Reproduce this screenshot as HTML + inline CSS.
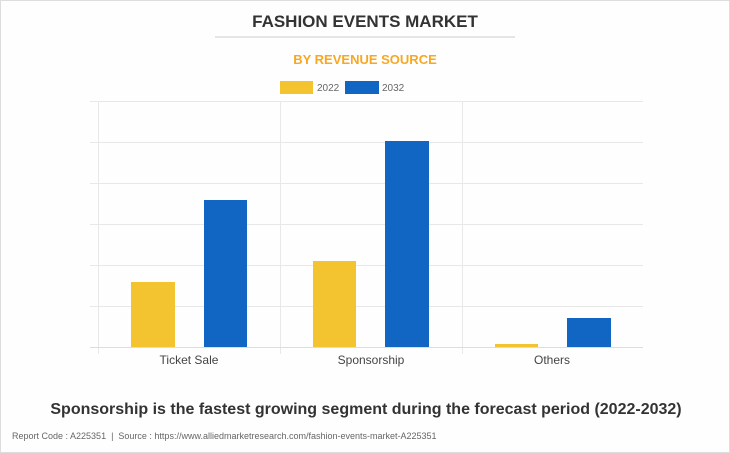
<!DOCTYPE html>
<html><head><style>
body{margin:0;background:#fff;}
.w{position:relative;width:728px;height:451px;border:1px solid #ddd;background:#fefefe;font-family:"Liberation Sans",Arial,sans-serif;overflow:hidden}
</style></head><body><div class="w">
<svg width="730" height="453" style="position:absolute;left:-1px;top:-1px" font-family="Liberation Sans, Arial, sans-serif">
<text x="365" y="27" text-anchor="middle" font-size="17" font-weight="bold" fill="#333">FASHION EVENTS MARKET</text>
<line x1="215" y1="37" x2="515" y2="37" stroke="#ccc" stroke-width="1"/>
<text x="365" y="64" text-anchor="middle" font-size="13" font-weight="bold" fill="#f7a823">BY REVENUE SOURCE</text>
<rect x="280" y="81" width="33" height="13" fill="#f4c430"/>
<text x="317" y="91" font-size="10" fill="#666">2022</text>
<rect x="345" y="81" width="34" height="13" fill="#1166c3"/>
<text x="382" y="91" font-size="10" fill="#666">2032</text>
<g stroke="#e8e8e8" stroke-width="1">
<line x1="90" y1="101.5" x2="643" y2="101.5"/>
<line x1="90" y1="142.5" x2="643" y2="142.5"/>
<line x1="90" y1="183.5" x2="643" y2="183.5"/>
<line x1="90" y1="224.5" x2="643" y2="224.5"/>
<line x1="90" y1="265.5" x2="643" y2="265.5"/>
<line x1="90" y1="306.5" x2="643" y2="306.5"/>
<line x1="98.5" y1="101" x2="98.5" y2="354"/>
<line x1="280.5" y1="101" x2="280.5" y2="354"/>
<line x1="462.5" y1="101" x2="462.5" y2="354"/>
</g>
<rect x="131" y="282" width="44" height="65" fill="#f4c430"/>
<rect x="204" y="200" width="43" height="147" fill="#1166c3"/>
<rect x="313" y="261" width="43" height="86" fill="#f4c430"/>
<rect x="385" y="141" width="44" height="206" fill="#1166c3"/>
<rect x="495" y="344" width="43" height="3" fill="#f4c430"/>
<rect x="567" y="318" width="44" height="29" fill="#1166c3"/>
<line x1="90" y1="347.5" x2="643" y2="347.5" stroke="#ddd"/>
<text x="189" y="364" text-anchor="middle" font-size="12" fill="#444">Ticket Sale</text>
<text x="371" y="364" text-anchor="middle" font-size="12" fill="#444">Sponsorship</text>
<text x="552" y="364" text-anchor="middle" font-size="12" fill="#444">Others</text>
<text x="366" y="414" text-anchor="middle" font-size="16" font-weight="bold" fill="#333">Sponsorship is the fastest growing segment during the forecast period (2022-2032)</text>
<text x="12" y="439" font-size="9" fill="#666" xml:space="preserve">Report Code : A225351  |  Source : https://www.alliedmarketresearch.com/fashion-events-market-A225351</text>
</svg></div></body></html>
